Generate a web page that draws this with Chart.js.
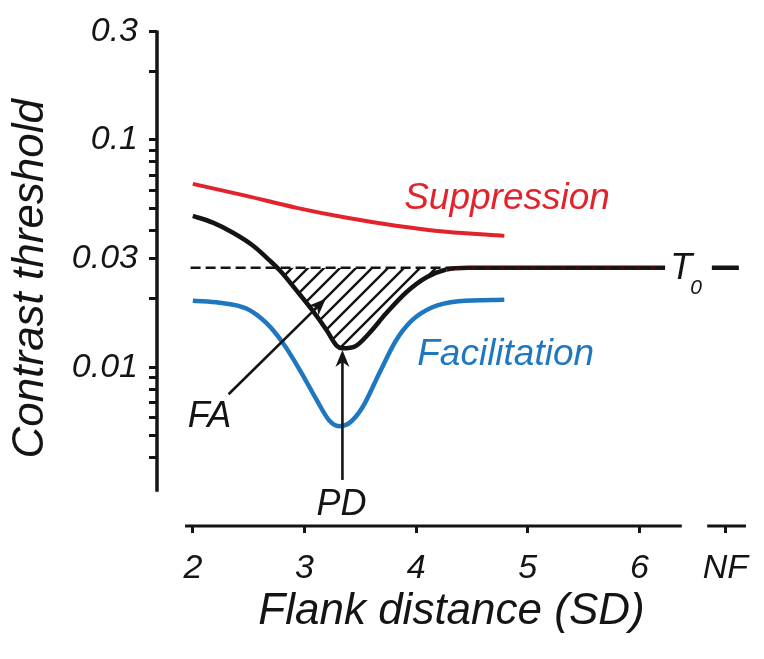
<!DOCTYPE html>
<html>
<head>
<meta charset="utf-8">
<script src="https://cdn.jsdelivr.net/npm/chart.js@4.4.1/dist/chart.umd.min.js"></script>
<style>
  html, body { margin: 0; padding: 0; background: #fff; }
</style>
</head>
<body>
<canvas id="thresholdChart" width="764" height="659"></canvas>
<script>
// flank distance (SD) and contrast threshold
const suppressionX = [2.0, 2.48, 2.93, 3.38, 3.82, 4.27, 4.79];
const suppressionY = [0.0640, 0.0567, 0.0502, 0.0454, 0.0419, 0.0394, 0.0378];

const combinedX = [2.0, 2.18, 2.36, 2.54, 2.69, 2.78, 2.93, 3.07, 3.20, 3.29, 3.34, 3.46, 3.58, 3.73, 3.91, 4.09, 4.27, 4.47, 4.8, 5.5, 6.23];
const combinedY = [0.0463, 0.0432, 0.0390, 0.0342, 0.0294, 0.0266, 0.0217, 0.0178, 0.0145, 0.0124, 0.0121, 0.0124, 0.0141, 0.0172, 0.0213, 0.0248, 0.0269, 0.0274, 0.0274, 0.0274, 0.0274];

const facilitationX = [2.0, 2.24, 2.48, 2.66, 2.81, 2.96, 3.11, 3.22, 3.31, 3.40, 3.52, 3.67, 3.82, 3.96, 4.14, 4.38, 4.79];
const facilitationY = [0.0196, 0.0192, 0.0181, 0.0156, 0.0127, 0.00968, 0.00716, 0.00584, 0.00550, 0.00567, 0.00666, 0.00940, 0.0131, 0.0160, 0.0183, 0.0195, 0.0198];

const T0 = 0.0274;             // baseline threshold, no flankers
const baselineX = [1.98, 6.23];
const NF_POS = 6.77;           // where the "no flank" point sits on the x axis

const xTicks = [2, 3, 4, 5, 6, NF_POS];
const yTicks = [0.3, 0.2, 0.1, 0.09, 0.08, 0.07, 0.06, 0.05, 0.04, 0.03, 0.02, 0.01, 0.009, 0.008, 0.007, 0.006, 0.005, 0.004];
const yLabeled = [0.3, 0.1, 0.03, 0.01];

// axis extents (the x axis is broken before NF)
const X_MIN = 1.679, X_MAX = 6.955;
const Y_MIN = 0.002, Y_MAX = 0.3;
const yAxisBottom = 0.00283;
const xAxisParts = [[1.93, 6.38], [6.607, 6.955]];

// arrows, in data units
const faArrow = [[2.32, 0.0076], [3.19, 0.0200]];
const pdArrow = [[3.34, 0.00319], [3.34, 0.0119]];

const RED = '#e3232c';
const BLUE = '#1f77bf';
const INK = '#141414';
const FONT = '"Liberation Sans", Arial, Helvetica, sans-serif';

const toPts = (xs, ys) => xs.map((x, i) => ({ x: x, y: ys[i] }));

// diagonal hatching for the facilitation area
function hatchPattern() {
  const c = document.createElement('canvas');
  c.width = 16; c.height = 16;
  const g = c.getContext('2d');
  g.strokeStyle = INK;
  g.lineWidth = 2.4;
  g.beginPath();
  g.moveTo(-2, 18); g.lineTo(18, -2);
  g.moveTo(-2, 2); g.lineTo(2, -2);
  g.moveTo(14, 18); g.lineTo(18, 14);
  g.stroke();
  return g.createPattern(c, 'repeat');
}

function arrow(ctx, x1, y1, x2, y2) {
  const ang = Math.atan2(y2 - y1, x2 - x1);
  const len = 17, half = 7, notch = 5;
  ctx.save();
  ctx.strokeStyle = INK;
  ctx.fillStyle = INK;
  ctx.lineWidth = 2.6;
  ctx.beginPath();
  ctx.moveTo(x1, y1);
  ctx.lineTo(x2 - Math.cos(ang) * (len - notch), y2 - Math.sin(ang) * (len - notch));
  ctx.stroke();
  ctx.translate(x2, y2);
  ctx.rotate(ang);
  ctx.beginPath();
  ctx.moveTo(0, 0);
  ctx.lineTo(-len, -half);
  ctx.lineTo(-len + notch, 0);
  ctx.lineTo(-len, half);
  ctx.closePath();
  ctx.fill();
  ctx.restore();
}

const extras = {
  id: 'extras',
  afterDraw(chart) {
    const { ctx, scales: { x, y } } = chart;
    ctx.save();
    ctx.strokeStyle = INK;
    ctx.lineCap = 'butt';

    // y axis line
    ctx.lineWidth = 3.5;
    ctx.beginPath();
    ctx.moveTo(x.left, y.getPixelForValue(Y_MAX) - 1);
    ctx.lineTo(x.left, y.getPixelForValue(yAxisBottom));
    ctx.stroke();

    // broken x axis line
    ctx.lineWidth = 3;
    const yb = y.bottom;
    xAxisParts.forEach(p => {
      ctx.beginPath();
      ctx.moveTo(x.getPixelForValue(p[0]), yb);
      ctx.lineTo(x.getPixelForValue(p[1]), yb);
      ctx.stroke();
    });

    arrow(ctx, x.getPixelForValue(faArrow[0][0]), y.getPixelForValue(faArrow[0][1]),
               x.getPixelForValue(faArrow[1][0]), y.getPixelForValue(faArrow[1][1]));
    arrow(ctx, x.getPixelForValue(pdArrow[0][0]), y.getPixelForValue(pdArrow[0][1]),
               x.getPixelForValue(pdArrow[1][0]), y.getPixelForValue(pdArrow[1][1]));

    const label = (text, vx, vy, size, color) => {
      ctx.font = 'italic ' + size + 'px ' + FONT;
      ctx.fillStyle = color;
      ctx.textAlign = 'left';
      ctx.textBaseline = 'alphabetic';
      ctx.fillText(text, x.getPixelForValue(vx), y.getPixelForValue(vy));
    };
    label('Suppression', 3.893, 0.0497, 37, RED);
    label('Facilitation', 4.01, 0.01018, 37, BLUE);
    label('FA', 1.955, 0.00544, 36, INK);
    label('PD', 3.107, 0.00224, 36, INK);
    label('T', 6.277, 0.0243, 36, INK);
    label('0', 6.455, 0.02105, 21, INK);
    ctx.restore();
  }
};

const ctx = document.getElementById('thresholdChart');
new Chart(ctx, {
  type: 'line',
  data: {
    datasets: [
      {
        label: 'T0',
        data: toPts(baselineX, [T0, T0]),
        borderColor: INK,
        borderWidth: 2.5,
        borderDash: [10, 5],
        pointRadius: 0,
        fill: false
      },
      {
        label: 'Combined',
        data: toPts(combinedX, combinedY),
        borderColor: INK,
        borderWidth: 4.5,
        pointRadius: 0,
        cubicInterpolationMode: 'monotone',
        segment: {
          borderColor: c => c.p0.parsed.x >= 4.27 ? '#3a0c0c' : undefined
        },
        fill: { value: T0, above: 'rgba(0,0,0,0)', below: hatchPattern() }
      },
      {
        label: 'Suppression',
        data: toPts(suppressionX, suppressionY),
        borderColor: RED,
        borderWidth: 4,
        pointRadius: 0,
        cubicInterpolationMode: 'monotone',
        fill: false
      },
      {
        label: 'Facilitation',
        data: toPts(facilitationX, facilitationY),
        borderColor: BLUE,
        borderWidth: 4.5,
        pointRadius: 0,
        cubicInterpolationMode: 'monotone',
        fill: false
      },
      {
        label: 'NF',
        data: [{ x: NF_POS, y: T0 }],
        showLine: false,
        pointStyle: 'line',
        pointRadius: 13.5,
        borderColor: INK,
        pointBorderWidth: 4.5,
        borderWidth: 4.5
      }
    ]
  },
  options: {
    responsive: false,
    animation: false,
    devicePixelRatio: 1,
    layout: { padding: { top: 30, right: 16, left: 0, bottom: 0 } },
    plugins: {
      legend: { display: false },
      tooltip: { enabled: false }
    },
    scales: {
      x: {
        type: 'linear',
        bounds: 'data',
        min: X_MIN,
        max: X_MAX,
        afterBuildTicks: s => { s.ticks = xTicks.map(v => ({ value: v })); },
        afterFit: s => { s.height = 133; },
        border: { display: false },
        grid: { drawOnChartArea: false, drawTicks: true, tickLength: 7, tickWidth: 3, tickColor: INK },
        ticks: {
          padding: 15,
          autoSkip: false,
          maxRotation: 0,
          color: INK,
          font: { family: FONT, size: 34, style: 'italic' },
          callback: v => Math.abs(v - NF_POS) < 1e-6 ? 'NF' : String(v)
        },
        title: {
          display: true,
          text: 'Flank distance (SD)',
          color: INK,
          font: { family: FONT, size: 44, style: 'italic' },
          padding: { top: 0, bottom: 21 }
        }
      },
      y: {
        type: 'logarithmic',
        bounds: 'data',
        min: Y_MIN,
        max: Y_MAX,
        afterBuildTicks: s => { s.ticks = yTicks.map(v => ({ value: v })); },
        afterFit: s => { s.width = 157; },
        border: { display: false },
        grid: { drawOnChartArea: false, drawTicks: true, tickLength: 8, tickWidth: 3, tickColor: INK },
        ticks: {
          padding: 11,
          autoSkip: false,
          color: INK,
          font: { family: FONT, size: 34, style: 'italic' },
          callback: v => yLabeled.includes(v) ? String(v) : ''
        },
        title: {
          display: true,
          text: 'Contrast threshold',
          color: INK,
          font: { family: FONT, size: 44, style: 'italic' },
          padding: { top: 4, bottom: 0 }
        }
      }
    }
  },
  plugins: [extras]
});
</script>
</body>
</html>
